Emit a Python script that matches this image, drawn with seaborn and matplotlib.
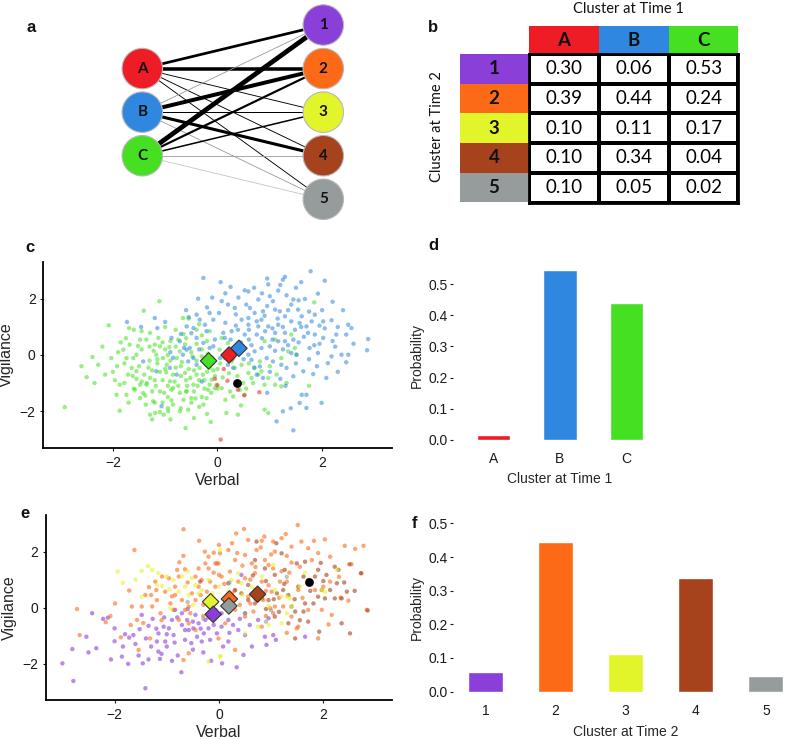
import numpy as np
import pandas as pd
import matplotlib.pyplot as plt
import seaborn as sns
from matplotlib.colors import ListedColormap
from matplotlib.patches import Rectangle

sns.set_style("ticks")
plt.rcParams['font.family'] = ['Liberation Sans', 'DejaVu Sans']

W, H = 785, 739

# ---------------- data ----------------
time1 = ['A', 'B', 'C']
time2 = ['1', '2', '3', '4', '5']
col1 = {'A': '#ee1c25', 'B': '#2f87e0', 'C': '#45e022'}
col2 = {'1': '#8b3fd9', '2': '#fd6a17', '3': '#e2f52a', '4': '#a6421c', '5': '#969c9c'}

# transition probabilities, rows = time 2 cluster, cols = time 1 cluster
trans = [[0.30, 0.06, 0.53],
         [0.39, 0.44, 0.24],
         [0.10, 0.11, 0.17],
         [0.10, 0.34, 0.04],
         [0.10, 0.05, 0.02]]

prob1 = [0.015, 0.545, 0.44]
prob2 = [0.058, 0.445, 0.113, 0.338, 0.046]

# cluster centres and the highlighted subject
cent1 = {'C': (-0.17, -0.21), 'B': (0.41, 0.24), 'A': (0.22, 0.0)}
subj1 = (0.37, -1.0)
cent2 = {'2': (0.2, 0.31), '3': (-0.16, 0.21), '5': (0.19, 0.06), '4': (0.74, 0.48), '1': (-0.11, -0.24)}
subj2 = (1.73, 0.92)

# time 1 scatter
pts_c_C = [(-2.92,-1.86),(-2.39,-0.07),(-2.50,-0.79),(-2.28,-0.35),(-2.15,-0.70),(-2.08,1.06),(-2.03,-0.11),
           (-1.92,-0.40),(-1.87,-1.99),(-1.93,-1.42),(-1.80,0.19),(-1.74,-0.11),(-1.69,0.96),(-1.68,0.37),
           (-1.61,-0.11),(-1.55,0.01),(-1.48,0.55),(-1.41,1.58),(-1.36,0.55),(-1.71,-0.70),(-1.64,-0.46),
           (-1.55,-0.58),(-1.48,-1.06),(-1.42,-1.36),(-1.36,-1.06),(-1.29,-0.82),(-1.23,-1.65),(-1.17,0.01),
           (-1.10,0.31),(-1.04,-0.11),(-0.97,-0.35),(-0.91,-0.94),(-0.88,-1.24),(-0.85,-1.18),(-0.78,-0.11),
           (-0.72,0.13),(-0.66,1.32),(-0.62,-0.64),(-0.59,-1.30),(-0.56,-1.95),(-0.50,-1.54),(-0.46,-1.06),
           (-0.40,-0.70),(-0.34,-0.46),(-0.27,-1.77),(-0.21,-1.54),(-0.18,-1.24),(-0.15,-1.06),(-0.11,-0.88),
           (-0.05,-1.18),(-0.61,-2.61),(-0.13,-2.39),(-1.10,-2.04),(-1.03,-2.13),(-0.94,-2.01),(-0.85,-1.77),
           (-0.72,-2.01),(-1.29,0.79),(-1.20,0.37),(-1.13,0.61),(-1.87,-1.06),(-1.96,-0.90),(-1.78,-1.00),
           (-1.58,-1.24),(-1.48,-1.54),(-1.37,-1.77),(-1.29,-2.13),(-1.19,-2.07),(-1.74,-1.42),
           (-1.0,-0.5),(-0.9,-0.2),(-0.8,0.3),(-0.7,-0.4),(-0.6,-0.9),(-0.5,0.1),(-0.4,-0.2),(-0.3,0.2),
           (-0.2,-0.6),(-0.1,-0.3),(-1.3,-0.2),(-1.2,-0.9),(-1.1,-1.3),(-1.0,0.2),(-0.95,-1.5),(-0.85,-0.7),
           (-0.75,-1.1),(-0.65,-1.6),(-0.55,-0.5),(-0.45,-1.3),(-0.35,-0.9),(-0.25,-1.2),(-0.15,-0.45),
           (-0.05,-0.75),(-1.4,-0.7),(-1.5,-0.4),(-1.6,-1.2),(-1.25,-1.3),(-1.15,-0.3),(-1.05,-0.9),(-0.9,0.5),
           (-0.6,0.6),(-0.4,0.4),(-0.3,-1.5),(-0.5,-1.7),(-0.7,-1.9),(-1.3,0.3),(-0.8,0.9),(-0.55,1.3),
           (-1.0,1.0),(-0.35,1.1),(-0.65,0.75),(-1.2,-1.7),(-1.45,0.2),(-1.9,0.1),(-2.2,0.3),(-1.75,0.6),
           (-0.95,-1.1),(-1.35,-1.0),(-1.1,-0.6),(-0.2,-2.1),(-0.1,-0.1),(0.0,-0.5),(0.1,-0.8),(0.0,-1.2),
           (0.08,0.61),(0.20,0.43),(0.04,0.19),(0.14,-0.11),(0.27,-0.23),(0.33,-0.46),(0.46,-0.35),(0.59,-0.64),
           (0.71,-0.46),(0.78,-0.70),(0.84,-0.58),(0.90,-1.06),(0.97,-0.82),(1.13,-0.70),(1.22,-0.11),(1.35,0.13),
           (1.48,0.25),(1.51,0.01),(1.41,0.73),(1.10,0.55),(0.90,0.49),(0.81,-0.23),(0.65,-0.82),(0.49,-1.00),
           (0.43,-1.24),(0.30,-1.48),(0.24,-1.30),(0.52,-1.42),(0.17,-2.07),(0.39,-2.13),(0.90,-1.95),(0.97,-2.07),
           (1.10,-1.06),(1.22,-1.12),(1.32,-1.00),(1.75,-1.10),(1.85,1.88),(0.08,-1.18),(-0.02,-1.06),(-1.11,1.92),
           (-0.8,-0.45),(-0.45,-0.55),(-1.25,-0.55),(-0.7,-0.75),(-0.3,-0.05),(-0.95,0.0),(-1.55,-0.85),
           (-0.6,-1.3),(-0.25,-0.9),(-1.05,-1.7),(-0.4,0.9),(-0.2,0.5),(-0.9,-2.3),(0.15,-1.6),(-1.6,0.9),
           (-1.15,-0.15),(-0.98,-0.62),(-0.82,-0.95),(-0.68,-0.25),(-0.52,-0.82),(-0.38,-1.1),(-0.22,-0.35),
           (-0.08,-0.55),(-1.32,-0.45),(-1.18,-1.1),(-1.02,-1.35),(-0.88,-1.62),(-0.72,-1.35),(-0.58,-1.1),
           (-0.42,-1.55),(-0.28,-0.7),(-0.12,-1.35),(-1.45,-0.95),(-1.62,-0.75),(-1.78,-0.3),(-1.52,0.32),
           (-1.22,0.15),(-0.92,0.28),(-0.62,0.38),(-0.48,-0.05),(-0.18,0.05),(0.05,-0.3),(0.22,-0.65),
           (0.38,-0.75),(0.55,-1.2),(0.68,-1.0),(-0.75,0.55),(-1.05,0.45),(-1.38,-1.45),(-0.95,-1.9),
           (-0.35,-1.85),(-2.0,-0.6),(-2.35,-1.0),(-1.85,0.45),(-0.15,0.85),(0.3,0.15),(1.0,-0.4),(0.6,-0.3),
           (-1.7,-1.7),(-1.25,-2.3),(-0.45,-2.25),(-2.6,-0.4),(-0.3,0.7),(-1.45,0.85),(0.45,-1.8)]
pts_c_B = [(1.78,2.99),(1.29,2.79),(0.95,2.73),(2.05,2.65),(0.06,2.60),(0.25,2.43),(0.52,2.31),(0.59,2.27),
           (0.97,2.52),(1.16,2.30),(1.25,2.69),(1.32,2.13),(1.45,1.98),(1.67,2.00),(1.92,2.19),(0.78,1.98),
           (1.06,1.92),(1.41,1.80),(1.54,1.62),(1.10,1.62),(0.87,1.56),(0.62,1.68),(0.71,1.50),(0.33,1.68),
           (0.20,1.80),(0.08,1.92),(0.03,1.50),(0.46,1.26),(0.59,1.32),(0.84,1.26),(1.19,1.56),(1.29,1.38),
           (1.61,1.38),(1.86,1.44),(1.80,1.20),(2.02,1.20),(2.18,1.24),(2.50,1.08),(2.56,0.96),(1.41,1.20),
           (1.57,1.14),(1.70,1.02),(1.16,1.08),(0.97,1.02),(0.78,1.02),(0.59,1.08),(0.39,0.90),(0.27,0.85),
           (0.11,0.79),(0.52,0.73),(0.75,0.73),(0.91,0.85),(1.10,0.79),(1.29,0.79),(1.48,0.90),(1.73,0.79),
           (1.86,0.73),(2.02,0.61),(2.27,0.73),(2.46,0.73),(2.88,0.57),(2.86,0.17),(2.37,0.01),(2.11,-0.29),
           (2.46,-0.26),(2.50,0.01),(2.18,-0.05),(1.92,0.07),(1.76,0.25),(1.51,0.01),(1.41,0.07),(1.29,0.49),
           (1.16,0.49),(1.00,0.31),(0.84,0.25),(0.71,0.13),(0.59,0.01),(0.65,-0.17),(0.81,-0.41),(0.94,-0.11),
           (1.06,-0.23),(1.22,-0.35),(1.32,-0.46),(1.45,-0.76),(1.64,-0.58),(1.83,-0.68),(2.08,-0.82),(1.61,-1.42),
           (1.70,-1.42),(1.57,-1.71),(1.70,-1.89),(1.99,-1.71),(1.25,-2.01),(1.13,-2.37),(1.45,-2.69),(0.75,-0.70),
           (0.87,-0.82),(0.14,0.61),(0.05,-0.11),(0.20,-0.35),(0.30,-0.46),(1.35,0.35),(1.55,0.45),(1.95,0.40),
           (2.25,0.30),(0.45,0.45),(0.60,0.55),(0.35,1.05),(0.90,1.40),(1.00,2.10),(0.70,2.40),(1.50,2.40),
           (2.00,1.60),(1.25,1.00),(0.30,0.25),(1.05,0.55),(1.75,-0.15),(0.95,-1.35),(1.30,-1.10),(0.40,2.05),
           (-0.27,2.75),(-0.37,2.01),(-0.40,1.44),(-0.15,1.50),(-1.20,1.32),(-1.73,1.18),(-1.46,1.00),(-1.00,1.18),
           (-1.15,0.96),(-0.59,1.02),(-0.46,0.96),(-0.34,1.26),(-0.24,1.08),(-0.08,1.26),(-0.64,0.25),(-0.53,0.25),
           (-0.40,0.61),(-0.27,0.43),(-0.15,0.25),(-0.05,0.55),(-0.88,0.61),(-0.72,0.49),(-0.66,0.01),(-0.56,-0.23),
           (-0.46,-0.11),(-0.91,-0.46),(-0.78,-0.70),(-1.07,-1.83),(-1.17,-0.58),(-1.42,-0.23),(-0.21,0.85),
           (-0.50,0.78),(-0.12,-0.11),(-0.40,-0.35),(-0.59,0.19),(-0.08,0.31),(-0.30,-0.95),(-0.85,-0.10),
           (-0.20,1.70),(-0.55,1.35),(-0.10,2.05),
           (0.15,1.15),(0.35,1.45),(0.55,1.8),(0.75,1.2),(0.95,1.75),(1.15,1.3),(1.35,1.6),(1.55,1.95),
           (1.75,1.55),(1.95,1.05),(0.25,0.55),(0.45,0.2),(0.65,0.35),(0.85,0.6),(1.05,0.95),(1.25,0.2),
           (1.45,0.55),(1.65,0.65),(1.85,0.35),(2.05,0.95),(2.3,1.0),(2.2,0.5),(2.6,0.4),(0.5,-0.15),
           (0.7,-0.45),(1.0,-0.6),(1.2,-0.85),(1.5,-0.3),(1.9,-0.4),(2.3,-0.6),(0.15,2.2),(0.85,2.2),
           (1.2,2.5),(1.6,2.6),(2.2,1.9),(2.4,1.6),(-0.7,0.75),(-0.35,0.2),(-0.9,0.1),(-0.6,1.6),(1.4,-1.9),
           (0.3,-0.1),(1.1,0.15),(0.6,0.9),(1.6,1.0)]
pts_c_A = [(-0.05,-0.85),(0.0,-1.08),(0.19,-0.92),(0.39,-1.24),(0.51,-1.44),(0.80,-1.33),(0.06,-3.02),
           (0.28,-0.15),(0.12,-0.5)]

# time 2 scatter
pts_e_1 = [(-3.0,-1.99),(-2.79,-2.62),(-2.81,-1.48),(-2.54,-1.04),(-2.43,-0.2),(-2.35,-1.45),(-2.22,-0.4),
           (-2.13,-0.36),(-2.07,-1.85),(-2.0,-0.74),(-1.86,-1.75),(-1.84,-1.39),(-1.74,-2.01),(-1.72,-1.07),
           (-1.64,-0.98),(-1.54,-1.71),(-1.52,-0.77),(-1.46,-1.99),(-1.41,-2.88),(-1.48,-0.26),(-1.35,-1.85),
           (-1.3,-1.39),(-1.27,-0.4),(-1.19,-1.21),(-1.16,-1.57),(-1.13,-1.83),(-1.06,-0.68),(-1.03,-1.21),
           (-0.96,-0.74),(-0.9,-0.44),(-0.87,-0.98),(-0.79,-1.71),(-0.72,-2.31),(-0.71,-0.62),(-0.65,-1.15),
           (-0.61,-0.44),(-0.58,-0.8),(-0.53,-1.27),(-0.49,-0.74),(-0.45,-0.26),(-0.42,-1.04),(-0.39,-0.56),
           (-0.33,-1.21),(-0.29,-0.92),(-0.26,-0.44),(-0.2,-0.74),(-0.17,-1.15),(-0.1,-0.62),(-0.04,-0.92),
           (-1.16,-0.92),(-0.84,-0.08),(-1.0,-1.39),(-0.71,-0.2),(0.05,-0.2),(0.18,-0.44),(0.27,-0.62),
           (0.37,-0.8),(0.5,-0.98),(0.59,-0.62),(0.63,-1.39),(0.75,-0.44),(0.91,-1.33),(0.95,-0.38),
           (1.04,-0.98),(1.09,-1.15),(0.47,-1.69),(0.06,-1.99),(0.34,-2.13),(0.08,-1.39),(0.18,-1.21),
           (0.88,-1.04),(0.43,1.17),(1.65,-1.04),(0.05,-0.68),(-0.8,-0.35),(-0.5,-0.5),(-1.35,-0.65),
           (-1.4,-1.1),(-1.2,-0.75),(-1.0,-0.95),(-0.85,-1.25),(-0.65,-0.8),(-0.5,-1.5),(-0.35,-0.75),
           (-0.2,-0.35),(-1.6,-1.3),(-1.8,-0.95),(-2.0,-1.2),(-1.1,-1.65),(-0.9,-1.9),(-0.3,-1.6),(0.2,-0.9),
           (0.4,-0.4),(-0.6,-0.05),(-1.05,-0.35),(-2.5,-1.6),(-0.15,-1.9)]
pts_e_2 = [(-0.68,2.8),(-0.38,2.39),(-1.62,2.06),(-0.68,1.85),(-0.76,1.62),(-0.27,2.0),(-0.1,1.96),(0.0,2.24),
           (-0.26,1.58),(-0.2,1.4),(-0.07,1.58),(-0.65,1.37),(-0.77,1.11),(-0.96,1.05),(-1.09,1.11),(-1.22,0.93),
           (-1.34,0.73),(-1.41,0.45),(-1.72,0.61),(-1.99,0.15),(-2.08,-0.3),(-2.17,-0.52),(-2.72,-0.05),
           (-2.67,-0.98),(-1.88,-1.06),(-1.69,-0.62),(-1.57,-0.44),(-1.48,0.04),(-1.28,0.04),(-1.19,0.27),
           (-1.12,-0.2),(-1.03,0.57),(-0.93,0.15),(-0.87,-0.08),(-0.84,0.45),(-0.71,0.27),(-0.65,-0.08),
           (-0.58,0.04),(-0.52,0.51),(-0.45,0.27),(-0.39,0.75),(-0.33,0.99),(-0.23,0.57),(-0.17,0.93),
           (-0.07,0.75),(0.0,1.17),(-0.77,-0.44),(-0.58,-0.56),(-0.45,-0.8),(-1.32,-1.1),(-1.54,-1.51),
           (-0.58,-1.63),(-0.68,-1.87),(-1.67,0.04),(-1.2,0.63),(-0.84,0.75),(-0.45,1.11),(-0.39,1.4),(-0.2,1.82),
           (1.51,2.95),(0.48,2.81),(0.33,2.65),(0.87,2.54),(1.28,2.63),(1.2,2.48),(0.56,2.42),(0.82,2.39),
           (1.04,2.36),(1.58,2.36),(1.82,2.39),(2.03,2.44),(2.41,2.21),(2.61,2.1),(2.77,2.21),(2.13,1.82),
           (2.54,1.55),(2.73,1.23),(2.83,-0.08),(2.48,0.25),(2.33,0.36),(2.16,-0.26),(1.9,-1.1),(1.52,-0.68),
           (1.39,-0.32),(1.23,0.04),(1.07,0.04),(1.01,0.57),(1.17,0.93),(1.3,0.93),(1.39,1.61),(1.55,1.46),
           (1.78,1.7),(1.71,2.12),(1.39,2.18),(1.07,2.0),(0.88,1.7),(0.72,2.06),(0.63,1.58),(0.5,1.88),(0.31,1.7),
           (0.18,2.06),(0.02,1.94),(-0.01,1.58),(0.05,1.11),(0.21,1.29),(0.37,0.93),(0.5,1.05),(0.69,1.23),
           (0.82,0.93),(0.95,1.52),(1.04,1.4),(0.69,0.63),(0.56,0.39),(0.85,0.27),(0.98,-0.02),(1.04,-0.2),
           (0.82,-0.68),(0.66,-0.14),(0.5,-0.32),(0.31,-0.08),(0.12,-0.56),(-0.01,-1.1),(0.31,-1.51),(1.49,-0.74),
           (1.71,-0.08),(1.97,-0.08),(1.84,0.63),(2.0,0.75),(2.13,0.93),(1.71,0.99),(1.52,0.63),(-0.04,1.58),
           (0.3,0.6),(0.15,0.35),(-0.3,0.1),(0.6,1.0),(0.9,0.6),(1.2,1.3),(0.4,0.1),(-0.15,0.3),
           (-0.6,0.9),(-0.35,0.45),(-0.1,1.25),(0.1,0.85),(0.25,0.5),(0.45,1.5),(0.7,1.45),(0.95,0.8),
           (1.15,0.35),(1.35,1.25),(1.6,0.35),(0.6,0.15),(-0.9,0.4),(-1.1,-0.45),(-0.55,-0.2),(0.25,2.3),
           (0.8,2.15),(1.3,1.85),(1.9,1.95),(2.3,1.1),(-1.45,-0.55),(-0.3,-0.3),(0.9,-0.3),(1.3,-0.9),
           (2.1,-0.6),(0.1,0.05),(-0.8,1.35),(-1.3,0.45),(0.35,1.95),(1.0,1.9)]
pts_e_3 = [(-1.94,1.29),(-1.84,0.89),(-1.48,1.31),(-1.36,1.49),(-1.28,1.35),(-1.16,1.23),(-1.19,0.81),
           (-1.09,0.77),(-1.0,1.11),(-0.87,0.99),(-0.77,0.57),(-0.65,0.75),(-0.58,0.45),(-0.49,0.1),(-0.39,0.51),
           (-0.33,0.63),(-0.2,0.99),(-0.13,0.51),(0.0,0.75),(-0.52,1.05),(-0.71,1.11),(-0.93,-0.02),(-1.48,0.39),
           (-0.2,-1.93),(0.03,-1.73),(-0.45,0.81),(0.02,2.06),(0.24,0.99),(0.37,1.23),(0.63,0.75),(0.82,1.11),
           (1.04,1.52),(1.07,0.63),(1.2,0.39),(1.36,0.33),(1.39,0.04),(1.3,-0.2),(1.2,-0.56),(0.95,-0.62),
           (0.75,-0.68),(0.5,-0.92),(1.97,0.63),(2.03,0.57),(2.26,1.35),(0.02,-1.75),(0.18,0.57),(0.12,0.27),
           (1.3,0.39),(0.43,0.87),(-0.95,0.65),(-0.6,1.3),(-0.25,0.25),(0.45,0.45),(0.8,0.3),(1.55,0.75),
           (1.65,1.25),(-1.6,1.0),(-0.15,-0.15),(0.95,0.05)]
pts_e_4 = [(1.62,1.11),(1.52,0.75),(1.65,1.64),(1.9,1.35),(1.84,1.11),(2.06,1.17),(2.22,1.46),(2.29,1.35),
           (2.13,0.63),(1.97,0.63),(1.9,0.39),(2.03,0.33),(2.22,0.33),(2.35,0.33),(2.26,0.87),(2.45,0.57),
           (2.72,1.23),(2.35,-0.56),(2.51,-0.92),(1.92,-0.86),(1.71,-0.5),(1.62,-0.14),(1.46,-0.14),(1.39,0.04),
           (1.33,0.45),(1.23,0.63),(1.11,0.51),(0.95,0.27),(0.82,0.33),(0.69,0.15),(0.56,0.27),(0.43,0.51),
           (1.2,1.94),(1.49,1.58),(1.26,1.35),(1.07,1.17),(0.88,1.4),(0.69,1.7),(1.1,2.3),(1.33,-0.56),
           (1.46,-1.1),(1.07,-0.32),(0.5,-0.2),(0.31,0.63),(0.18,0.87),(0.56,0.81),(0.72,2.36),(1.65,0.15),
           (1.81,0.15),(-0.36,0.93),(-0.2,0.33),(-0.07,-0.08),(2.85,-0.1),(2.5,1.55),
           (0.7,0.55),(0.9,0.95),(1.05,0.3),(1.25,0.85),(1.45,0.3),(1.75,0.6),(2.0,0.95),(2.4,0.9),
           (1.55,-0.45),(0.9,-0.05),(0.3,0.3),(1.15,-0.15),(2.6,0.6),(1.95,1.6),(0.65,1.15)]
pts_e_5 = [(0.5,-0.2),(0.9,-0.5),(0.2,0.9),(1.3,1.1),(-0.3,-0.4),(0.7,0.3),(1.0,-0.1),(-0.6,0.2)]


def to_frame(groups):
    rows = [(x, y, k) for k, pts in groups.items() for x, y in pts]
    return pd.DataFrame(rows, columns=['Verbal', 'Vigilance', 'cluster'])


df_c = to_frame({'C': pts_c_C, 'B': pts_c_B, 'A': pts_c_A})
df_e = to_frame({'1': pts_e_1, '2': pts_e_2, '4': pts_e_4, '3': pts_e_3, '5': pts_e_5})
df_trans = pd.DataFrame(trans, index=time2, columns=time1)


def box(l, t, r, b):
    return [l / W, 1 - b / H, (r - l) / W, (b - t) / H]


fig = plt.figure(figsize=(W / 100, H / 100), dpi=100)

# ---------------- a: network ----------------
ax_a = fig.add_axes(box(0, 0, 400, 220))
for j, t1 in enumerate(time1):
    for i, t2 in enumerate(time2):
        p = trans[i][j]
        c = 'black' if p >= 0.08 else ('#9a9a9a' if p >= 0.04 else '#c4c4c4')
        ax_a.plot([0, 1], [j + 1, i], color=c, lw=max(0.6, 6.5 * p), zorder=1,
                  solid_capstyle='butt')
sns.scatterplot(x=[0] * 3, y=[1, 2, 3], hue=time1, palette=col1, s=850,
                edgecolor='#b8b8b8', linewidth=0.8, legend=False, ax=ax_a, zorder=3)
sns.scatterplot(x=[1] * 5, y=list(range(5)), hue=time2, palette=col2, s=850,
                edgecolor='#b8b8b8', linewidth=0.8, legend=False, ax=ax_a, zorder=3)
for j, t1 in enumerate(time1):
    ax_a.text(0, j + 1, t1, ha='center', va='center', fontsize=11, fontweight='bold',
              family='Lato', color='#111111', zorder=4)
for i, t2 in enumerate(time2):
    ax_a.text(1, i, t2, ha='center', va='center', fontsize=11, fontweight='bold',
              family='Lato', color='#111111', zorder=4)
ax_a.set_xlim(-142.3 / 181, (400 - 142.3) / 181)
ax_a.set_ylim((220 - 25) / 43.575, -25 / 43.575)
ax_a.axis('off')

# ---------------- b: table ----------------
ax_b = fig.add_axes(box(529, 54, 738.5, 202.5))
sns.heatmap(df_trans, ax=ax_b, annot=True, fmt='.2f', cmap=ListedColormap(['white']),
            cbar=False, linewidths=1.5, linecolor='black',
            annot_kws={'fontsize': 13.5, 'family': 'Lato', 'color': 'black'})
ax_b.set_xticks([])
ax_b.set_yticks([])
ax_b.set_xlabel('')
ax_b.set_ylabel('')
for s in ax_b.spines.values():
    s.set_visible(True)
    s.set_linewidth(2)
    s.set_color('black')
for j, t1 in enumerate(time1):
    ax_b.add_patch(Rectangle((j, -0.95), 1, 0.95, color=col1[t1], clip_on=False, lw=0))
    ax_b.text(j + 0.5, -0.47, t1, ha='center', va='center', fontsize=13.5,
              fontweight='bold', family='Lato', color='#111111')
for i, t2 in enumerate(time2):
    ax_b.add_patch(Rectangle((-0.99, i), 0.99, 1, color=col2[t2], clip_on=False, lw=0))
    ax_b.text(-0.5, i + 0.5, t2, ha='center', va='center', fontsize=13.5,
              fontweight='bold', family='Lato', color='#111111')
fig.text(628 / W, 1 - 9 / H, 'Cluster at Time 1', ha='center', va='center',
         fontsize=10.5, family='Lato', color='#111111')
fig.text(437 / W, 1 - 127 / H, 'Cluster at Time 2', ha='center', va='center',
         rotation=90, fontsize=10.5, family='Lato', color='#111111')


# ---------------- scatter panels ----------------
def style_scatter(ax, lim):
    ax.set_xlim(*lim[0])
    ax.set_ylim(*lim[1])
    ax.set_xticks([-2, 0, 2])
    ax.set_yticks([-2, 0, 2])
    sns.despine(ax=ax)
    for s in ['left', 'bottom']:
        ax.spines[s].set_linewidth(1.3)
        ax.spines[s].set_color('black')
    ax.tick_params(length=2.5, width=0.8, pad=3, labelsize=10, colors='#1a1a1a')
    ax.set_xlabel('Verbal', fontsize=11.5, labelpad=2.5)
    ax.set_ylabel('Vigilance', fontsize=11.5, labelpad=4)
    ax.set_facecolor('none')


ax_c = fig.add_axes(box(43.3, 261.7, 391.7, 448.3))
sns.scatterplot(data=df_c, x='Verbal', y='Vigilance', hue='cluster', palette=col1,
                s=10, alpha=0.55, linewidth=0, legend=False, ax=ax_c)
sns.scatterplot(x=[v[0] for v in cent1.values()], y=[v[1] for v in cent1.values()],
                hue=list(cent1.keys()), palette=col1, marker='D', s=70,
                edgecolor='#333333', linewidth=0.8, legend=False, ax=ax_c, zorder=5)
sns.scatterplot(x=[subj1[0]], y=[subj1[1]], color='black', s=40, linewidth=0, ax=ax_c, zorder=6)
style_scatter(ax_c, [(-3.33, 3.33), (-3.33, 3.33)])

ax_e = fig.add_axes(box(45.7, 515, 391.7, 700))
sns.scatterplot(data=df_e, x='Verbal', y='Vigilance', hue='cluster', palette=col2,
                s=10, alpha=0.6, linewidth=0, legend=False, ax=ax_e)
sns.scatterplot(x=[v[0] for v in cent2.values()], y=[v[1] for v in cent2.values()],
                hue=list(cent2.keys()), palette=col2, marker='D', s=70,
                edgecolor='#333333', linewidth=0.8, legend=False, ax=ax_e, zorder=5)
sns.scatterplot(x=[subj2[0]], y=[subj2[1]], color='black', s=40, linewidth=0, ax=ax_e, zorder=6)
style_scatter(ax_e, [(-3.32, 3.31), (-3.3, 3.31)])


# ---------------- bar panels ----------------
def style_bar(ax, xlabel, lpad):
    sns.despine(ax=ax, left=True, bottom=True)
    ax.set_yticks([0.0, 0.1, 0.2, 0.3, 0.4, 0.5])
    ax.set_yticklabels(['0.0', '0.1', '0.2', '0.3', '0.4', '0.5'])
    ax.tick_params(axis='y', length=2.5, width=0.8, pad=1.5, labelsize=10, colors='#1a1a1a')
    ax.tick_params(axis='x', length=0, pad=3, labelsize=10, colors='#1a1a1a')
    ax.set_ylabel('Probability', fontsize=10, labelpad=3)
    ax.set_xlabel(xlabel, fontsize=10, labelpad=lpad)
    ax.set_facecolor('none')


ax_d = fig.add_axes(box(453.3, 261.7, 666.7, 448.3))
sns.barplot(x=time1, y=prob1, hue=time1, palette=col1, width=0.5, saturation=1,
            legend=False, ax=ax_d)
ax_d.set_xlim(-0.6, 2.6)
ax_d.set_ylim(-0.0273, 0.5723)
style_bar(ax_d, 'Cluster at Time 1', 4)

ax_f = fig.add_axes(box(453.3, 515, 798.2, 700))
sns.barplot(x=time2, y=prob2, hue=time2, palette=col2, width=0.5, saturation=1,
            legend=False, ax=ax_f)
ax_f.set_xlim(-0.46, 4.46)
ax_f.set_ylim(-0.025, 0.525)
style_bar(ax_f, 'Cluster at Time 2', 5)

# ---------------- panel letters ----------------
for lab, x, y in [('a', 31, 27), ('b', 433, 27), ('c', 30, 247), ('d', 433, 246),
                  ('e', 25, 514), ('f', 414, 523)]:
    fig.text(x / W, 1 - y / H, lab, ha='center', va='center', fontsize=12,
             fontweight='bold', color='#111111')

fig.savefig('out.png', dpi=100)
